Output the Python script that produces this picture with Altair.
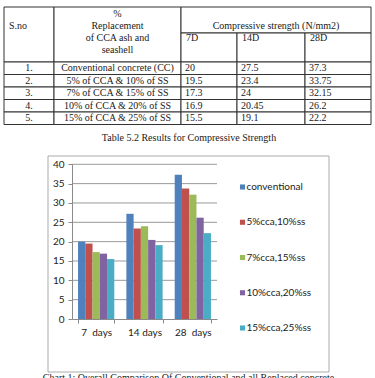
import altair as alt
import pandas as pd

# ---------------- table content ----------------
sno = ["1.", "2.", "3.", "4.", "5."]
replacement = ["Conventional concrete (CC)", "5% of CCA & 10% of SS", "7% of CCA & 15% of SS",
               "10% of CCA & 20% of SS", "15% of CCA & 25% of SS"]
d7_text = ["20", "19.5", "17.3", "16.9", "15.5"]
d14_text = ["27.5", "23.4", "24", "20.45", "19.1"]
d28_text = ["37.3", "33.75", "32.15", "26.2", "22.2"]
header_lines = ["%", "Replacement", "of CCA ash and", "seashell"]
age_headers = ["7D", "14D", "28D"]
table_caption = "Table 5.2 Results for Compressive Strength"
chart_caption = "Chart 1: Overall Comparison Of Conventional and all Replaced concrete"

# ---------------- chart content ----------------
periods = ["7\u00a0 days", "14 days", "28\u00a0 days"]
series = ["conventional", "5%cca,10%ss", "7%cca,15%ss", "10%cca,20%ss", "15%cca,25%ss"]
vals_7 = [20, 19.5, 17.3, 16.9, 15.5]
vals_14 = [27.2, 23.4, 24, 20.45, 19.1]
vals_28 = [37.3, 33.75, 32.15, 26.2, 22.2]
colors = ["#4F81BD", "#C0504D", "#9BBB59", "#8064A2", "#4BACC6"]
y_ticks = [0, 5, 10, 15, 20, 25, 30, 35, 40]

SERIF = "Liberation Serif"
SANS = "Lato"
INK = "#1a1a1a"

# ---------------- table data frames ----------------
cells = []
cells += [dict(c0=0, c1=1, r0=0, r1=2), dict(c0=1, c1=2, r0=0, r1=2), dict(c0=2, c1=5, r0=0, r1=1)]
cells += [dict(c0=c, c1=c + 1, r0=1, r1=2) for c in range(2, 5)]
for r in range(len(sno)):
    for c in range(5):
        cells.append(dict(c0=c, c1=c + 1, r0=r + 2, r1=r + 3))
cells_df = pd.DataFrame(cells)

body_center = []
body_left = []
for i in range(len(sno)):
    body_center.append(dict(cx=0.5, ry=i + 2.5, t=sno[i]))
    body_center.append(dict(cx=1.5, ry=i + 2.5, t=replacement[i]))
    for c, col in zip([2, 3, 4], [d7_text, d14_text, d28_text]):
        body_left.append(dict(cx=c, ry=i + 2.5, t=col[i]))
body_center_df = pd.DataFrame(body_center)
body_left_df = pd.DataFrame(body_left)

hdr_center_df = pd.DataFrame([dict(cx=1.5, line=k, t=s) for k, s in enumerate(header_lines)])
hdr_left_df = pd.DataFrame([dict(cx=0, line=1, t="S.no")] +
                           [dict(cx=c, line=2, t=s) for c, s in zip([2, 3, 4], age_headers)])
hdr_span_df = pd.DataFrame([dict(cx=3.5, line=1, t="Compressive strength (N/mm2)")])

col_scale = alt.Scale(type="linear", domain=[0, 1, 2, 3, 4, 5],
                      range=[4, 54, 181, 237, 305, 371], zero=False, nice=False)
row_scale = alt.Scale(type="linear", domain=[0, 1, 2, 3, 4, 5, 6, 7],
                      range=[7, 33, 62, 74.5, 87, 99.5, 112, 124.5], zero=False, nice=False)
line_scale = alt.Scale(type="point", domain=[0, 1, 2, 3], range=[13.5, 49.5], padding=0)

cell_rects = alt.Chart(cells_df).mark_rect(fill="white", stroke="#333333", strokeWidth=1).encode(
    x=alt.X("c0:Q", scale=col_scale, axis=None), x2="c1:Q",
    y=alt.Y("r0:Q", scale=row_scale, axis=None), y2="r1:Q")

txt = dict(font=SERIF, fontSize=10, color=INK, baseline="middle")
body_c = alt.Chart(body_center_df).mark_text(align="center", **txt).encode(
    x=alt.X("cx:Q", scale=col_scale, axis=None), y=alt.Y("ry:Q", scale=row_scale, axis=None), text="t:N")
body_l = alt.Chart(body_left_df).mark_text(align="left", dx=4, **txt).encode(
    x=alt.X("cx:Q", scale=col_scale, axis=None), y=alt.Y("ry:Q", scale=row_scale, axis=None), text="t:N")
hdr_c = alt.Chart(hdr_center_df).mark_text(align="center", **txt).encode(
    x=alt.X("cx:Q", scale=col_scale, axis=None), y=alt.Y("line:O", scale=line_scale, axis=None), text="t:N")
hdr_l = alt.Chart(hdr_left_df).mark_text(align="left", dx=5, **txt).encode(
    x=alt.X("cx:Q", scale=col_scale, axis=None), y=alt.Y("line:O", scale=line_scale, axis=None), text="t:N")
hdr_s = alt.Chart(hdr_span_df).mark_text(align="center", dx=5, **txt).encode(
    x=alt.X("cx:Q", scale=col_scale, axis=None), y=alt.Y("line:O", scale=line_scale, axis=None), text="t:N")

cap1 = alt.Chart(pd.DataFrame({"t": [table_caption]})).mark_text(
    font=SERIF, fontSize=10, color=INK, align="center", baseline="middle").encode(
    x=alt.value(189), y=alt.value(138), text="t:N")
cap2 = alt.Chart(pd.DataFrame({"t": [chart_caption]})).mark_text(
    font=SERIF, fontSize=10, color=INK, align="center", baseline="top").encode(
    x=alt.value(188.5), y=alt.value(373), text="t:N")

# ---------------- bar chart ----------------
frame = alt.Chart(pd.DataFrame({"k": [0]})).mark_rect(fill="white", stroke="#ABABAB", strokeWidth=1).encode(
    x=alt.value(48), x2=alt.value(329), y=alt.value(156), y2=alt.value(372))

rows = []
for p, vals in zip(periods, [vals_7, vals_14, vals_28]):
    for s, v in zip(series, vals):
        rows.append(dict(period=p, series=s, value=v))
bars_df = pd.DataFrame(rows)

def yscale():
    return alt.Scale(domain=[0, 40], range=[319, 164.3], nice=False, zero=True)

x_scale = alt.Scale(domain=periods, range=[72, 217], paddingInner=0.25, paddingOuter=0.125)
color_scale = alt.Scale(domain=series, range=colors)

grid = alt.Chart(pd.DataFrame({"v": y_ticks[1:]})).mark_rule(color="#9A9A9A", strokeWidth=1).encode(
    y=alt.Y("v:Q", scale=yscale(), axis=None), x=alt.value(72), x2=alt.value(217))

bars = alt.Chart(bars_df).mark_bar().encode(
    x=alt.X("period:N", scale=x_scale, sort=periods, title=None,
            axis=alt.Axis(orient="bottom", offset=-59, labelAngle=0, tickBand="extent", tickSize=4,
                          labelPadding=4, domainColor="#8A8A8A", tickColor="#8A8A8A", zindex=2,
                          labelFont=SANS, labelFontSize=10, labelColor="#222222")),
    xOffset=alt.XOffset("series:N", sort=series, scale=alt.Scale(domain=series, paddingInner=0, paddingOuter=0)),
    y=alt.Y("value:Q", scale=yscale(), title=None,
            axis=alt.Axis(orient="left", offset=-72, values=y_ticks, tickSize=4, labelPadding=4,
                          grid=False, domainColor="#8A8A8A", tickColor="#8A8A8A", zindex=2,
                          labelFont=SANS, labelFontSize=10, labelColor="#222222")),
    color=alt.Color("series:N", scale=color_scale, legend=None))

leg_df = pd.DataFrame({"series": series})
leg_y = alt.Scale(type="point", domain=series, range=[187, 328], padding=0)
leg_sq = alt.Chart(leg_df).mark_square(size=26, opacity=1).encode(
    x=alt.value(242.5), y=alt.Y("series:N", scale=leg_y, axis=None),
    color=alt.Color("series:N", scale=color_scale, legend=None))
leg_tx = alt.Chart(leg_df).mark_text(align="left", baseline="middle", font=SANS, fontSize=10,
                                     color="#222222").encode(
    x=alt.value(246.5), y=alt.Y("series:N", scale=leg_y, axis=None), text="series:N")

chart = alt.layer(
    cell_rects, body_c, body_l, hdr_c, hdr_l, hdr_s, cap1,
    frame, grid, bars, leg_sq, leg_tx, cap2
).resolve_scale(x="independent", y="independent").properties(
    width=375, height=378, autosize=alt.AutoSizeParams(type="none"), padding=0,
    background="white"
).configure_view(stroke=None)

chart.save("out.html", embed_options={"renderer": "svg", "actions": False})
